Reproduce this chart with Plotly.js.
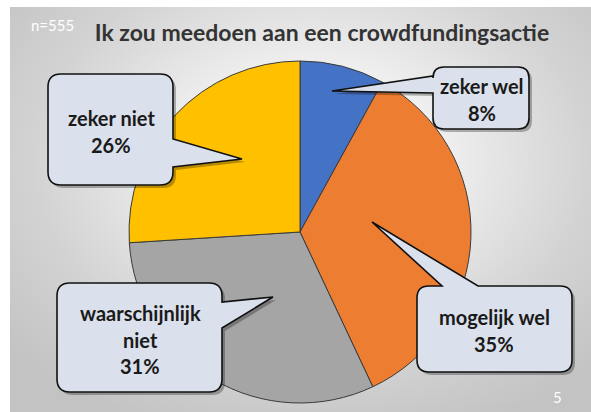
<!DOCTYPE html>
<html>
<head>
<meta charset="utf-8">
<script src="https://cdn.plot.ly/plotly-3.0.1.min.js"></script>
<style>
  html, body { margin:0; padding:0; background:#ffffff; }
  #wrap { position:relative; width:591px; height:412px; overflow:hidden; background:#ffffff; }
  #bg { position:absolute; left:10px; top:7px; width:581px; height:405px;
        background: radial-gradient(ellipse 68% 72% at 52% 38%, #ffffff 0%, #f0f0f0 32%, #d3d3d3 70%, #c3c3c3 100%); }
  #chart { position:absolute; left:0; top:0; width:591px; height:412px; }
</style>
</head>
<body>
<div id="wrap"><div id="bg"></div><div id="chart"></div></div>
<script>
// ---- data ----
const categories = ['zeker wel', 'mogelijk wel', 'waarschijnlijk niet', 'zeker niet'];
const labelLines = [['zeker wel'], ['mogelijk wel'], ['waarschijnlijk', 'niet'], ['zeker niet']];
const percentages = [8, 35, 31, 26];
const sliceColors = ['#4472C4', '#ED7D31', '#A5A5A5', '#FFC000'];
const chartTitle = 'Ik zou meedoen aan een crowdfundingsactie';
const sampleNote = 'n=555';
const pageNumber = '5';

// ---- layout helpers (pixel -> paper) ----
const W = 591, H = 412;
const fx = x => x / W;
const fy = y => 1 - y / H;
const P = (x, y) => fx(x).toFixed(5) + ',' + fy(y).toFixed(5);

// callout geometry (pixels), same order as categories
const callouts = [
  {x0:433, y0:67, x1:529, y1:129, r:11, side:'left',  base:[76, 93],   tip:[332, 91],  tx:482, ty:[86]},
  {x0:417, y0:286, x1:572, y1:372, r:12, side:'top',  base:[442, 478], tip:[372, 222], tx:494, ty:[317]},
  {x0:57,  y0:283, x1:222, y1:392, r:13, side:'right', base:[302, 328], tip:[273, 297], tx:140, ty:[313]},
  {x0:48,  y0:74,  x1:173, y1:185, r:13, side:'right', base:[139, 167], tip:[242, 159], tx:111, ty:[118]}
];
const lineGap = 26.5;

function bubblePath(b, dx, dy) {
  const X = v => v + dx, Y = v => v + dy;
  const {x0, y0, x1, y1, r} = b;
  const t = b.tip;
  let d = 'M' + P(X(x0 + r), Y(y0));
  if (b.side === 'top') d += ' L' + P(X(b.base[0]), Y(y0)) + ' L' + P(X(t[0]), Y(t[1])) + ' L' + P(X(b.base[1]), Y(y0));
  d += ' L' + P(X(x1 - r), Y(y0)) + ' Q' + P(X(x1), Y(y0)) + ' ' + P(X(x1), Y(y0 + r));
  if (b.side === 'right') d += ' L' + P(X(x1), Y(b.base[0])) + ' L' + P(X(t[0]), Y(t[1])) + ' L' + P(X(x1), Y(b.base[1]));
  d += ' L' + P(X(x1), Y(y1 - r)) + ' Q' + P(X(x1), Y(y1)) + ' ' + P(X(x1 - r), Y(y1));
  d += ' L' + P(X(x0 + r), Y(y1)) + ' Q' + P(X(x0), Y(y1)) + ' ' + P(X(x0), Y(y1 - r));
  if (b.side === 'left') d += ' L' + P(X(x0), Y(b.base[1])) + ' L' + P(X(t[0]), Y(t[1])) + ' L' + P(X(x0), Y(b.base[0]));
  d += ' L' + P(X(x0), Y(y0 + r)) + ' Q' + P(X(x0), Y(y0)) + ' ' + P(X(x0 + r), Y(y0)) + ' Z';
  return d;
}

const shapes = [];
callouts.forEach(b => {
  shapes.push({type:'path', xref:'paper', yref:'paper', layer:'above', path:bubblePath(b, 3, 3),
               fillcolor:'rgba(0,0,0,0.28)', line:{width:0}});
});
callouts.forEach(b => {
  shapes.push({type:'path', xref:'paper', yref:'paper', layer:'above', path:bubblePath(b, 0, 0),
               fillcolor:'#DAE1EC', line:{color:'#111111', width:1.6}});
});

const labelFont = {family:'Lato, "Open Sans", sans-serif', size:20, color:'#1a1a1a', weight:'bold'};
const annotations = [];
categories.forEach((c, i) => {
  const b = callouts[i];
  const lines = labelLines[i].concat([percentages[i] + '%']);
  lines.forEach((txt, k) => {
    annotations.push({xref:'paper', yref:'paper', x:fx(b.tx), y:fy(b.ty[0] + k * lineGap),
      xanchor:'center', yanchor:'middle', text:txt, showarrow:false, font:labelFont});
  });
});
annotations.push({xref:'paper', yref:'paper', x:fx(29), y:fy(25), xanchor:'left', yanchor:'middle',
  text:sampleNote, showarrow:false, font:{family:'Lato, sans-serif', size:15, color:'#ffffff'}});
annotations.push({xref:'paper', yref:'paper', x:fx(557), y:fy(397), xanchor:'center', yanchor:'middle',
  text:pageNumber, showarrow:false, font:{family:'Lato, sans-serif', size:15, color:'#ffffff'}});

// pie geometry
const cx = 300, cy = 232, R = 171;

const trace = {
  type:'pie',
  labels:categories,
  values:percentages,
  sort:false,
  direction:'clockwise',
  rotation:0,
  textinfo:'none',
  hoverinfo:'none',
  showlegend:false,
  marker:{colors:sliceColors, line:{color:'#3a3a3a', width:1}},
  domain:{x:[fx(cx - R), fx(cx + R)], y:[fy(cy + R), fy(cy - R)]}
};

const layout = {
  width:W, height:H,
  margin:{l:0, r:0, t:0, b:0, pad:0},
  paper_bgcolor:'rgba(0,0,0,0)',
  plot_bgcolor:'rgba(0,0,0,0)',
  title:{text:chartTitle, x:fx(322), xanchor:'center', y:fy(33), yanchor:'middle',
         font:{family:'Lato, "Open Sans", sans-serif', size:23, color:'#333333', weight:'bold'}},
  shapes:shapes,
  annotations:annotations
};

Plotly.newPlot('chart', [trace], layout, {displayModeBar:false, staticPlot:true});
</script>
</body>
</html>
